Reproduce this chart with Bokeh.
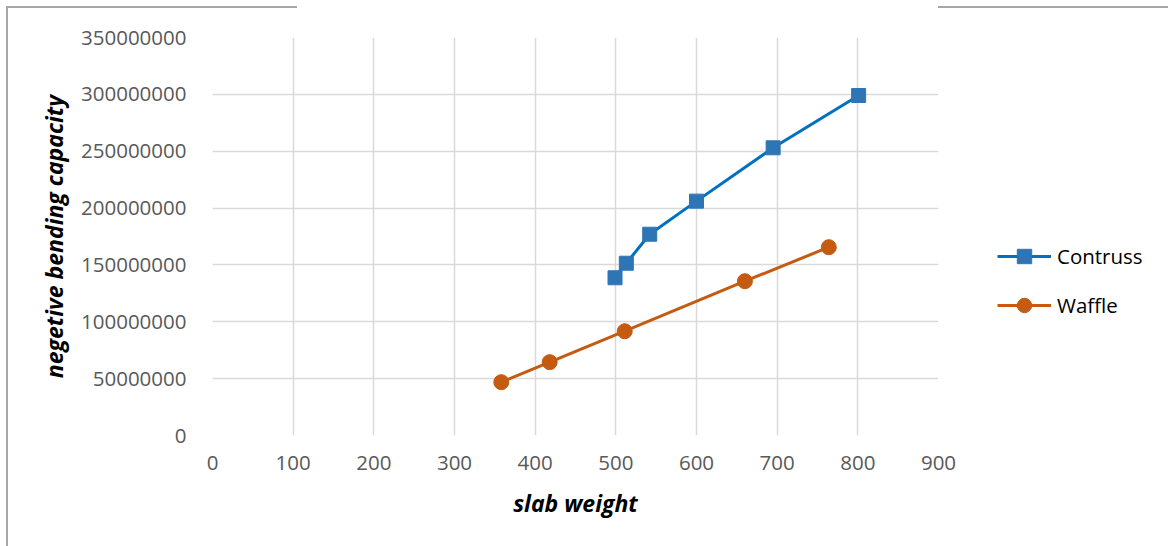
from bokeh.plotting import figure
from bokeh.models import Range1d, FixedTicker, NumeralTickFormatter, Legend, LegendItem
from bokeh.embed import file_html
from bokeh.resources import INLINE

# Data
contruss_x = [499, 513, 542, 600, 695, 801]
contruss_y = [138.7e6, 151.5e6, 177.0e6, 206.1e6, 253.0e6, 299.0e6]
waffle_x = [358, 418, 511, 660, 764]
waffle_y = [46.9e6, 64.5e6, 91.7e6, 135.7e6, 165.6e6]
x_ticks = [0, 100, 200, 300, 400, 500, 600, 700, 800, 900]
y_ticks = [0, 50e6, 100e6, 150e6, 200e6, 250e6, 300e6, 350e6]

FONT = "Open Sans"
BLUE_LINE = "#0070C0"
BLUE_MARK = "#2E75B6"
ORANGE = "#C55A11"
GRID = "#D9D9D9"
FRAME = "#A6A6A6"

bg_css = {
    "background-color": "white",
    "background-image": ("linear-gradient(%s,%s), linear-gradient(%s,%s), linear-gradient(%s,%s)"
                         % (FRAME, FRAME, FRAME, FRAME, FRAME, FRAME)),
    "background-size": "2px 540px, 291px 2px, 230px 2px",
    "background-position": "6px 6px, 6px 6px, 938px 6px",
    "background-repeat": "no-repeat",
}

p = figure(frame_width=726, frame_height=398, output_backend="svg", toolbar_location=None,
           x_range=Range1d(0, 900), y_range=Range1d(0, 350e6),
           min_border_left=212, min_border_right=0, min_border_top=37, min_border_bottom=111,
           styles=bg_css)
p.outline_line_color = None
p.background_fill_color = "white"
p.border_fill_alpha = 0

p.xaxis.ticker = FixedTicker(ticks=x_ticks)
p.yaxis.ticker = FixedTicker(ticks=y_ticks)
p.yaxis.formatter = NumeralTickFormatter(format="0")
for ax in (p.xaxis[0], p.yaxis[0]):
    ax.axis_line_color = None
    ax.major_tick_line_color = None
    ax.minor_tick_line_color = None
    ax.major_label_text_font = FONT
    ax.major_label_text_font_size = "20.5px"
    ax.major_label_text_color = "#595959"
    ax.axis_label_text_font = FONT
    ax.axis_label_text_font_size = "23px"
    ax.axis_label_text_font_style = "bold italic"
    ax.axis_label_text_color = "#000000"
p.xaxis.major_label_standoff = 14
p.yaxis.major_label_standoff = 20
p.xaxis.axis_label = "slab weight"
p.yaxis.axis_label = "negetive bending capacity"
p.xaxis.axis_label_standoff = 14
p.yaxis.axis_label_standoff = 8

p.xgrid.grid_line_color = GRID
p.ygrid.grid_line_color = GRID
p.xgrid.grid_line_width = 1.5
p.ygrid.grid_line_width = 1.5

l1 = p.line(contruss_x, contruss_y, line_color=BLUE_LINE, line_width=3)
s1 = p.scatter(contruss_x, contruss_y, marker="square", size=14,
               fill_color=BLUE_MARK, line_color=BLUE_MARK)
l2 = p.line(waffle_x, waffle_y, line_color=ORANGE, line_width=3)
s2 = p.scatter(waffle_x, waffle_y, marker="circle", size=15,
               fill_color=ORANGE, line_color=ORANGE)

legend = Legend(items=[LegendItem(label="Contruss", renderers=[l1, s1]),
                       LegendItem(label="Waffle", renderers=[l2, s2])],
                location=(59, 112), padding=0, margin=0, border_line_color=None,
                background_fill_alpha=0, glyph_width=54, glyph_height=36,
                label_height=36, spacing=13, label_standoff=6,
                label_text_font=FONT, label_text_font_size="20.5px", label_text_color="#000000")
p.add_layout(legend, "right")

open("out.html", "w").write(file_html(p, INLINE))
